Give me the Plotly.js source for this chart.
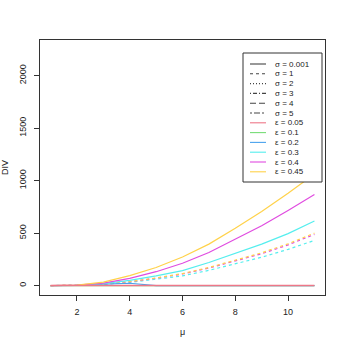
<!DOCTYPE html>
<html>
<head>
<meta charset="utf-8">
<script src="https://cdn.plot.ly/plotly-3.0.1.min.js"></script>
<style>
  html, body { margin: 0; padding: 0; background: #fff; }
  #plot { width: 346px; height: 346px; }
</style>
</head>
<body>
<div id="plot"></div>
<script>
// mu grid
var mu = [1, 2, 3, 4, 5, 6, 7, 8, 9, 10, 11];

// solid curves (sigma = 0.001), one per epsilon
var eps005 = [0, 0, 0, 0, 0, 0, 0, 0, 0, 0, 0];
var eps01  = [0, 0, 0, 0, 0, 0, 0, 0, 0, 0, 0];
var eps02  = [0, 2, 14, 22, 0, 0, 0, 0, 0, 0, 0];
var eps03  = [0, 3, 18, 50, 92, 143, 220, 305, 395, 495, 615];
var eps04  = [0, 4, 24, 68, 132, 212, 315, 440, 570, 715, 867];
var eps045 = [0, 5, 32, 95, 172, 272, 395, 545, 705, 880, 1064];

// dashed curves (sigma = 1)
var s1eps03  = [0, 2, 10, 30, 58, 92, 145, 205, 270, 345, 430];
var s1eps04  = [0, 2, 13, 36, 70, 110, 167, 233, 303, 387, 488];
var s1eps045 = [0, 2, 14, 38, 72, 114, 172, 240, 312, 398, 500];

var sigmaLabels = ['σ = 0.001', 'σ = 1', 'σ = 2', 'σ = 3', 'σ = 4', 'σ = 5'];
var sigmaDash = ['solid', '3px,3px', '1px,2px', '1px,2px,4px,2px', '6px,3px', '2px,2px,6px,2px'];
var epsLabels = ['ε = 0.05', 'ε = 0.1', 'ε = 0.2', 'ε = 0.3', 'ε = 0.4', 'ε = 0.45'];
var epsColors = ['#ee7788', '#77dd77', '#4aa3ee', '#55eeee', '#e04ce0', '#ffd24a'];

function curve(y, color, dash, w) {
  return {
    x: mu, y: y, mode: 'lines', showlegend: false, hoverinfo: 'skip',
    line: {color: color, width: w || 1.2, dash: dash}
  };
}

var traces = [
  curve(s1eps03, epsColors[3], '3px,3px'),
  curve(s1eps04, epsColors[4], '3px,3px'),
  curve(s1eps045, epsColors[5], '3px,3px'),
  curve(eps01, epsColors[1], 'solid'),
  curve(eps02, epsColors[2], 'solid'),
  curve(eps03, epsColors[3], 'solid'),
  curve(eps04, epsColors[4], 'solid'),
  curve(eps045, epsColors[5], 'solid'),
  curve(eps005, epsColors[0], 'solid', 1.6)
];

// hand-drawn legend box (R style), in pixel positions of the page
var plotL = 40, plotR = 325, plotT = 40, plotB = 295;
function px(x) { return (x - plotL) / (plotR - plotL); }
function py(y) { return (plotB - y) / (plotB - plotT); }

var fam = 'Liberation Sans, Arial, sans-serif';
var font = {family: fam, size: 9, color: '#222'};
var shapes = [{
  type: 'rect', xref: 'paper', yref: 'paper',
  x0: px(243), x1: px(322), y0: py(182), y1: py(53),
  line: {color: '#333', width: 1}, fillcolor: '#fff', layer: 'above'
}];
var annotations = [];
var labels = sigmaLabels.concat(epsLabels);
for (var i = 0; i < labels.length; i++) {
  var yy = 64 + i * 9.8;
  var isSigma = i < sigmaLabels.length;
  shapes.push({
    type: 'line', xref: 'paper', yref: 'paper', layer: 'above',
    x0: px(250), x1: px(266), y0: py(yy), y1: py(yy),
    line: {
      color: isSigma ? '#444' : epsColors[i - sigmaLabels.length],
      width: 1.1,
      dash: isSigma ? sigmaDash[i] : 'solid'
    }
  });
  annotations.push({
    xref: 'paper', yref: 'paper', x: px(273), y: py(yy),
    xanchor: 'left', yanchor: 'middle', showarrow: false,
    text: labels[i], font: {family: fam, size: 8, color: '#222'}
  });
}

var layout = {
  width: 346, height: 346,
  margin: {l: plotL, r: 346 - plotR, t: plotT, b: 346 - plotB},
  paper_bgcolor: '#fff', plot_bgcolor: '#fff',
  font: font,
  showlegend: false,
  shapes: shapes,
  annotations: annotations,
  xaxis: {
    range: [0.6, 11.4], tickvals: [2, 4, 6, 8, 10],
    showline: true, mirror: true, linecolor: '#333', linewidth: 1,
    ticks: 'outside', ticklen: 5, tickcolor: '#333',
    ticklabelstandoff: 3,
    showgrid: false, zeroline: false,
    title: {text: 'μ', standoff: 12, font: font}
  },
  yaxis: {
    range: [-90, 2340], tickvals: [0, 500, 1000, 1500, 2000],
    tickangle: -90, ticklabelstandoff: 4,
    showline: true, mirror: true, linecolor: '#333', linewidth: 1,
    ticks: 'outside', ticklen: 5, tickcolor: '#333',
    showgrid: false, zeroline: false,
    title: {text: 'DIV', standoff: 8, font: font}
  }
};

Plotly.newPlot('plot', traces, layout, {displayModeBar: false, staticPlot: true});
</script>
</body>
</html>
